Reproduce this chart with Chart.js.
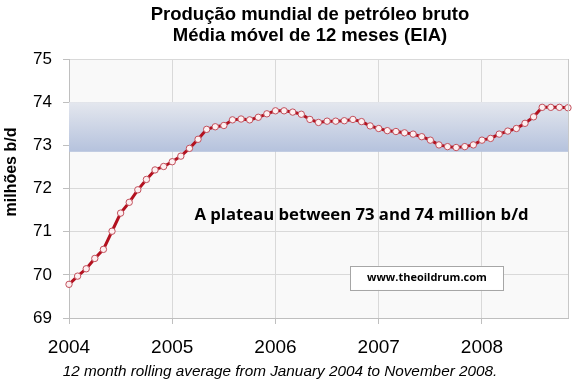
<!DOCTYPE html>
<html>
<head>
<meta charset="utf-8">
<script src="https://cdn.jsdelivr.net/npm/chart.js@4.4.0/dist/chart.umd.min.js"></script>
<style>
  html, body { margin: 0; padding: 0; background: #fff; }
  #wrap { position: relative; width: 576px; height: 392px; }
</style>
</head>
<body>
<div id="wrap"><canvas id="chart" width="576" height="392"></canvas></div>
<script>
// Monthly 12-month rolling average, Jan 2004 .. Nov 2008 (million b/d)
const yearLabels = ['2004', '2005', '2006', '2007', '2008'];
const monthNames = ['Jan', 'Feb', 'Mar', 'Apr', 'May', 'Jun', 'Jul', 'Aug', 'Sep', 'Oct', 'Nov', 'Dec'];
const production = [
  69.78, 69.97, 70.14, 70.38, 70.59, 71.01, 71.43, 71.68, 71.97, 72.21, 72.43, 72.51,
  72.62, 72.75, 72.93, 73.14, 73.37, 73.43, 73.46, 73.59, 73.61, 73.59, 73.65, 73.73,
  73.80, 73.80, 73.77, 73.72, 73.60, 73.53, 73.56, 73.56, 73.57, 73.60, 73.55, 73.45,
  73.39, 73.34, 73.32, 73.29, 73.26, 73.20, 73.12, 73.01, 72.97, 72.95, 72.97, 73.01,
  73.12, 73.16, 73.26, 73.33, 73.39, 73.51, 73.66, 73.88, 73.88, 73.88, 73.87
];
const plateauBand = [72.85, 74];

const titleLines = ['Produção mundial de petróleo bruto', 'Média móvel de 12 meses (EIA)'];
const yTitle = 'milhões b/d';
const footNote = '12 month rolling average from January 2004 to November 2008.';
const plateauText = 'A plateau between 73 and 74 million b/d';
const sourceText = 'www.theoildrum.com';

// month labels built from the year list
const monthLabels = [];
yearLabels.forEach(y => monthNames.forEach(m => monthLabels.push(m + ' ' + y)));
monthLabels.length = production.length;

const GRID = '#d9d9d9';
const ARIAL = '"Liberation Sans", Arial, sans-serif';

/** Plot background, plateau band, right border and free texts. */
const decorPlugin = {
  id: 'decor',
  beforeDraw(chart) {
    const { ctx, chartArea: a } = chart;
    ctx.save();
    ctx.fillStyle = '#f9f9f9';
    ctx.fillRect(a.left, a.top, a.right - a.left, a.bottom - a.top);
    ctx.restore();
  },
  beforeDatasetsDraw(chart) {
    const { ctx, chartArea: a, scales: { y } } = chart;
    const top = y.getPixelForValue(plateauBand[1]);
    const bot = y.getPixelForValue(plateauBand[0]);
    const g = ctx.createLinearGradient(0, top, 0, bot);
    g.addColorStop(0, '#e4e7ee');
    g.addColorStop(1, '#b5c2dd');
    ctx.save();
    ctx.fillStyle = g;
    ctx.fillRect(a.left, top, a.right - a.left, bot - top);
    ctx.restore();
  },
  afterDraw(chart) {
    const { ctx, chartArea: a, scales: { x, y } } = chart;
    ctx.save();
    // right border of plot
    ctx.strokeStyle = '#c8c8c8';
    ctx.lineWidth = 1;
    ctx.beginPath();
    ctx.moveTo(Math.round(a.right) + 0.5, a.top);
    ctx.lineTo(Math.round(a.right) + 0.5, a.bottom);
    ctx.stroke();

    // title
    ctx.fillStyle = '#000';
    ctx.textAlign = 'center';
    ctx.textBaseline = 'middle';
    ctx.font = 'bold 18.5px ' + ARIAL;
    ctx.fillText(titleLines[0], 310, 15);
    ctx.fillText(titleLines[1], 310, 36);

    // y axis title
    ctx.save();
    ctx.translate(12, 172);
    ctx.rotate(-Math.PI / 2);
    ctx.font = 'bold 16px ' + ARIAL;
    ctx.fillText(yTitle, 0, 0);
    ctx.restore();

    // footnote
    ctx.font = 'italic 15.3px ' + ARIAL;
    ctx.fillText(footNote, 280, 372);

    // plateau note
    ctx.font = 'bold 16.7px "Open Sans", sans-serif';
    ctx.fillText(plateauText, x.getPixelForValue(34), y.getPixelForValue(71.37));

    // source box
    const cx = x.getPixelForValue(41.6), cy = y.getPixelForValue(69.93);
    ctx.font = 'bold 11px "Open Sans", sans-serif';
    const w = 153, h = 24;
    ctx.fillStyle = '#fff';
    ctx.fillRect(cx - w / 2, cy - h / 2, w, h);
    ctx.strokeStyle = '#a6a6a6';
    ctx.strokeRect(Math.round(cx - w / 2) + 0.5, Math.round(cy - h / 2) + 0.5, w, h);
    ctx.fillStyle = '#000';
    ctx.fillText(sourceText, cx, cy);
    ctx.restore();
  }
};

new Chart(document.getElementById('chart'), {
  type: 'line',
  data: {
    labels: monthLabels,
    datasets: [{
      data: production,
      borderColor: '#b3111f',
      borderWidth: 3,
      pointRadius: 3.2,
      pointBorderWidth: 1,
      pointBorderColor: '#c2505c',
      pointBackgroundColor: '#fdf0f1',
      tension: 0,
    }]
  },
  options: {
    responsive: false,
    animation: false,
    layout: { padding: { top: 59, right: 8, left: 6, bottom: 0 } },
    plugins: {
      legend: { display: false },
      tooltip: { enabled: false },
    },
    scales: {
      x: {
        type: 'category',
        offset: false,
        afterFit: (s) => {
          s.height = 392 - 318;
          s.paddingRight = 0;
          s.paddingLeft = 0;
        },
        border: { color: '#bfbfbf' },
        grid: {
          color: (c) => (c.index % 12 === 0 ? GRID : 'transparent'),
          tickColor: (c) => (c.index % 12 === 0 ? '#bfbfbf' : 'transparent'),
          tickLength: 6,
        },
        ticks: {
          autoSkip: false,
          maxRotation: 0,
          padding: 12,
          color: '#000',
          font: { family: ARIAL, size: 19 },
          callback: (v, i) => (i % 12 === 0 ? yearLabels[i / 12] : ''),
        },
      },
      y: {
        min: 69,
        max: 75,
        afterFit: (s) => { s.width = 69 - 6; },
        border: { color: '#bfbfbf' },
        grid: { color: GRID, tickColor: '#bfbfbf', tickLength: 6 },
        ticks: {
          stepSize: 1,
          padding: 11,
          color: '#000',
          font: { family: ARIAL, size: 17 },
        },
      },
    },
  },
  plugins: [decorPlugin],
});
</script>
</body>
</html>
